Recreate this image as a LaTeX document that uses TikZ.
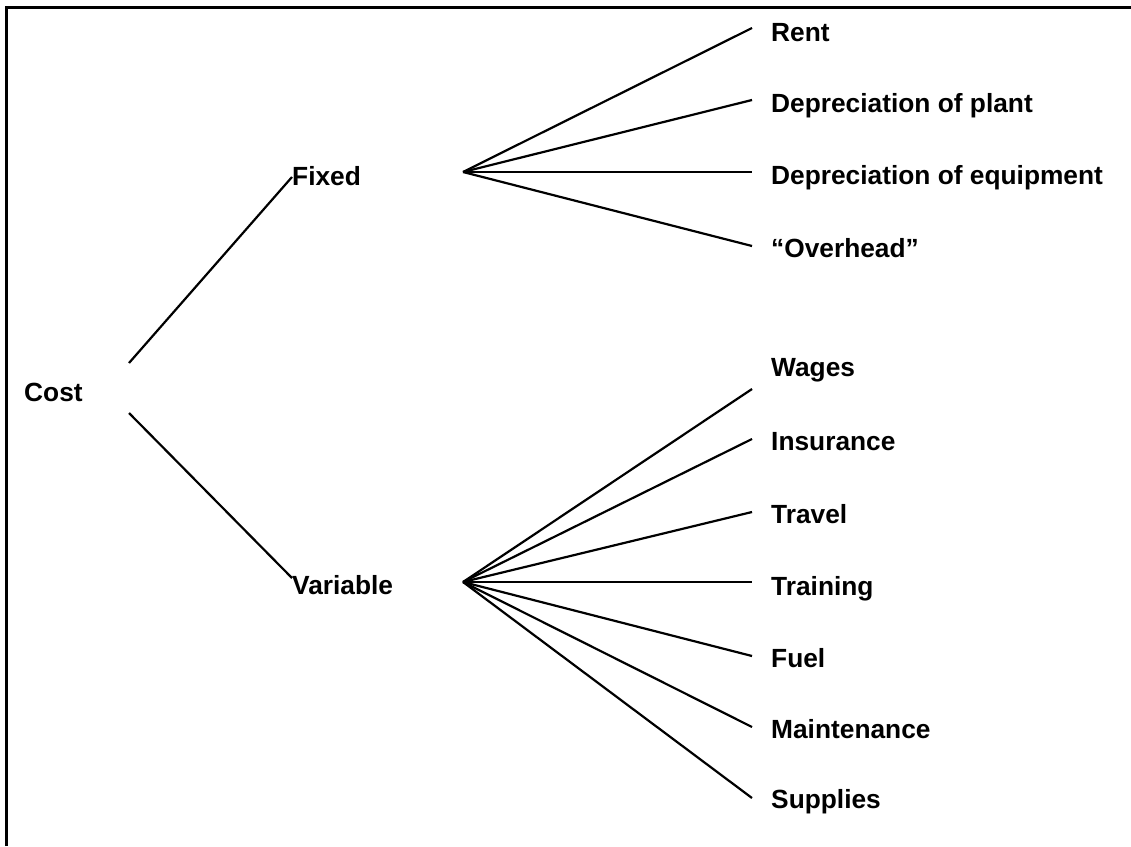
\documentclass[tikz,border=0pt]{standalone}
\usepackage{fontspec}
\setmainfont{Liberation Sans}
\begin{document}
\begin{tikzpicture}[x=1pt,y=-1pt,
  lbl/.style={anchor=base west, inner sep=0pt, font=\fontsize{26.3}{31}\selectfont\bfseries},
  branch/.style={line width=2.2pt},
  frame/.style={line width=3pt}]
\useasboundingbox (0,0) rectangle (1131,846);
\draw[frame] (6.5,846) -- (6.5,7.5) -- (1131,7.5);
% labels
\node[lbl] (cost) at (24,401) {Cost};
\node[lbl] (fixed) at (292,185) {Fixed};
\node[lbl] (variable) at (292,594) {Variable};
\node[lbl] (rent) at (771,41) {Rent};
\node[lbl] (dplant) at (771,112) {Depreciation of plant};
\node[lbl] (dequip) at (771,184) {Depreciation of equipment};
\node[lbl] (overhead) at (771,257) {“Overhead”};
\node[lbl] (wages) at (771,376) {Wages};
\node[lbl] (insurance) at (771,450) {Insurance};
\node[lbl] (travel) at (771,523) {Travel};
\node[lbl] (training) at (771,595) {Training};
\node[lbl] (fuel) at (771,667) {Fuel};
\node[lbl] (maint) at (771,738) {Maintenance};
\node[lbl] (supplies) at (771,808) {Supplies};
% connector ends
\coordinate (cup) at (129,363);
\coordinate (cdn) at (129,413);
\coordinate (fin) at (292,177);
\coordinate (vin) at (292,578);
\coordinate (fo) at (463,172);
\coordinate (vo) at (463,582);
\coordinate (erent) at (752,28);
\coordinate (edplant) at (752,100);
\coordinate (edequip) at (752,172);
\coordinate (eoverhead) at (752,246);
\coordinate (ewages) at (752,389);
\coordinate (einsurance) at (752,439);
\coordinate (etravel) at (752,512);
\coordinate (etraining) at (752,582);
\coordinate (efuel) at (752,656);
\coordinate (emaint) at (752,727);
\coordinate (esupplies) at (752,798);
% branches
\draw[branch] (cup) -- (fin);
\draw[branch] (cdn) -- (vin);
\foreach \e in {erent,edplant,edequip,eoverhead}
  \draw[branch] (fo) -- (\e);
\foreach \e in {ewages,einsurance,etravel,etraining,efuel,emaint,esupplies}
  \draw[branch] (vo) -- (\e);
\end{tikzpicture}
\end{document}
